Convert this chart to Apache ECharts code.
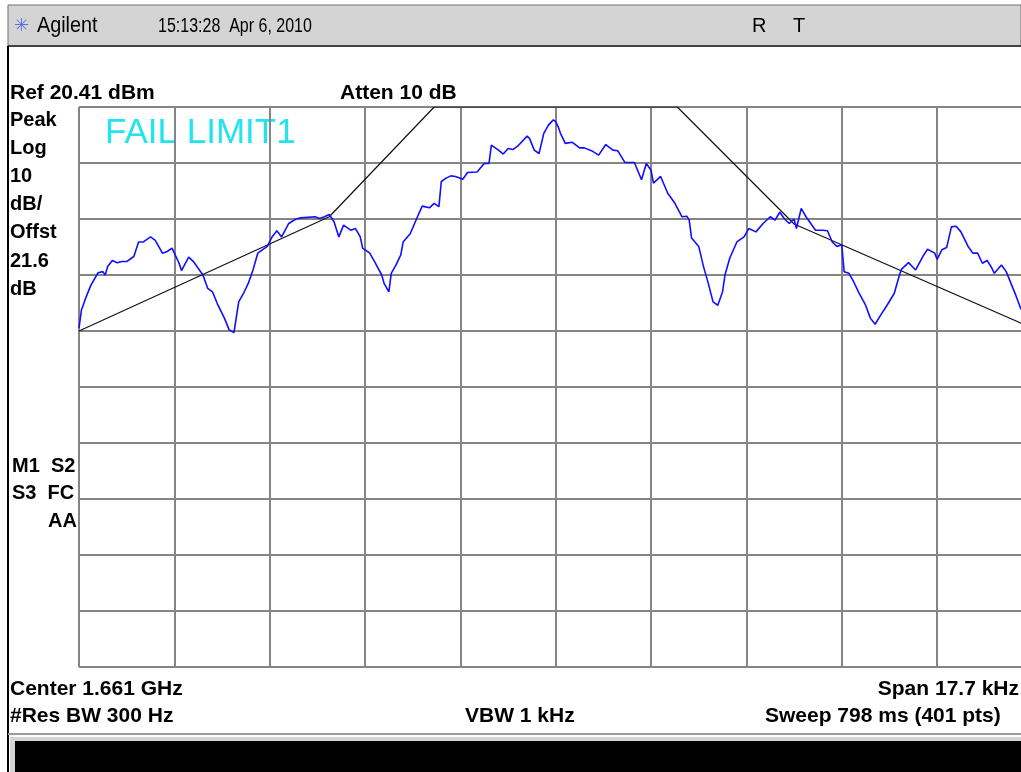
<!DOCTYPE html>
<html>
<head>
<meta charset="utf-8">
<title>Agilent spectrum</title>
<script src="https://cdn.jsdelivr.net/npm/echarts@6/dist/echarts.min.js"></script>
<style>
  html, body { margin: 0; padding: 0; background: #fff; }
  #main { width: 1021px; height: 772px; }
</style>
</head>
<body>
<div id="main"></div>
<script>
// 扫描点序号 (0..400, 401 pts) 和 相对参考电平的 dB 值
var tracePts = [0,1,3,5,8,10,11,12,14,16,18,20,23,25,27,30,32,35,37,39,40,42,43,46,48,50,52,54,56,58,61,63,65,67,69,71,73,75,79,81,83,85,88,91,93,99,101,103,105,107,109,111,112,114,116,118,119,122,124,127,128,130,131,133,135,136,139,142,144,147,149,151,152,154,156,158,161,163,167,170,172,173,176,178,180,182,184,188,189,191,193,195,197,199,200,201,202,204,207,210,212,215,218,221,224,226,229,233,236,238,240,241,244,247,250,253,255,256,257,260,262,264,266,268,270,271,273,276,279,281,284,287,290,292,294,296,298,300,301,303,305,307,309,312,314,316,318,320,321,323,325,327,330,332,334,336,339,342,344,345,348,351,354,356,359,360,362,364,366,368,370,373,375,377,379,381,383,384,387,389,391,393,395,400];
var traceDb = [-39.5,-36.3,-33.9,-31.8,-29.6,-29.4,-30.0,-28.5,-27.4,-27.8,-27.6,-27.6,-26.7,-24.1,-24.1,-23.2,-23.8,-26.1,-25.8,-25.2,-26.1,-27.9,-29.2,-26.8,-27.6,-28.8,-30.0,-32.4,-33.0,-35.1,-37.7,-39.8,-40.3,-34.8,-33.3,-31.5,-29.1,-26.1,-24.9,-23.2,-22.1,-23.2,-20.8,-20.0,-19.8,-19.6,-19.9,-19.6,-19.2,-20.5,-23.2,-21.1,-21.4,-22.0,-21.7,-23.2,-25.2,-26.1,-27.6,-30.0,-31.5,-33.0,-29.7,-28.2,-26.4,-24.1,-22.6,-19.6,-17.7,-18.0,-17.2,-17.8,-13.3,-12.7,-12.3,-12.4,-12.9,-11.7,-11.6,-10.1,-10.1,-6.8,-7.7,-8.4,-7.4,-7.6,-7.0,-5.2,-5.6,-7.7,-8.3,-4.7,-3.2,-2.3,-2.6,-3.5,-4.7,-6.5,-6.3,-7.3,-7.3,-7.8,-8.6,-6.7,-7.7,-7.8,-9.9,-9.9,-13.0,-10.1,-11.3,-13.6,-12.4,-15.4,-17.2,-19.6,-19.5,-20.2,-23.4,-24.9,-28.5,-31.5,-34.8,-35.4,-33.0,-30.0,-27.0,-24.1,-23.2,-21.7,-22.3,-20.8,-19.6,-20.2,-18.8,-20.0,-20.8,-20.0,-21.7,-18.1,-19.6,-20.8,-22.0,-22.0,-22.1,-24.1,-24.9,-24.6,-29.4,-29.7,-31.2,-33.0,-35.4,-37.7,-38.8,-37.4,-35.4,-33.3,-30.3,-29.0,-27.8,-29.1,-26.7,-25.4,-26.1,-27.2,-25.5,-25.1,-21.4,-21.3,-22.3,-24.9,-26.1,-26.1,-27.9,-27.4,-28.8,-29.7,-28.2,-29.4,-31.5,-33.6,-35.9,-39.0];
// LIMIT1 折线
var limitPts = [0,105,149,251,300,400];
var limitDb = [-40.0,-19.6,0,0,-20.9,-39.5];

var leftLabels = ['Peak','Log','10','dB/','Offst','21.6','dB'];

function pairs(xs, ys){
    var out = [];
    for (var i = 0; i < xs.length; i++) { out.push([xs[i], ys[i]]); }
    return out;
}

var myChart = echarts.init(document.getElementById('main'));

var sans = "'Liberation Sans',Arial,sans-serif";

function txt(x, y, s, font, extra){
    var st = { text: s, font: font + ' ' + sans, fill: '#000', verticalAlign: 'middle' };
    for (var k in extra) { st[k] = extra[k]; }
    return { type: 'text', x: x, y: y, style: st, silent: true };
}

var graphics = [
    // 顶部标题栏
    { type:'rect', shape:{x:8,y:5,width:1013,height:41}, style:{fill:'#d4d4d4', stroke:'#6e6e6e', lineWidth:1} },
    { type:'line', shape:{x1:8,y1:46,x2:1021,y2:46}, style:{stroke:'#444', lineWidth:2} },
    // 左侧黑线
    { type:'line', shape:{x1:8,y1:46,x2:8,y2:772}, style:{stroke:'#000', lineWidth:2} },
    txt(14, 26, '✳', '18px', {fill:'#5a6fe0'}),
    { type:'text', x:37, y:26, scaleX:0.9, silent:true,
      style:{text:'Agilent', font:'22px ' + sans, fill:'#000', verticalAlign:'middle'} },
    { type:'text', x:158, y:26, scaleX:0.8, silent:true,
      style:{text:'15:13:28  Apr 6, 2010', font:'20px ' + sans, fill:'#000', verticalAlign:'middle'} },
    txt(752, 26, 'R', '20px'),
    txt(793, 26, 'T', '20px'),
    // 参考电平
    txt(10, 93, 'Ref 20.41 dBm', 'bold 21px'),
    txt(340, 93, 'Atten 10 dB', 'bold 21px'),
    txt(105, 133, 'FAIL LIMIT1', '35px', {fill:'#22e4ee'}),
    // 底部信息
    txt(10, 689, 'Center 1.661 GHz', 'bold 21px'),
    txt(1019, 689, 'Span 17.7 kHz', 'bold 21px', {align:'right'}),
    txt(10, 716, '#Res BW 300 Hz', 'bold 21px'),
    txt(465, 716, 'VBW 1 kHz', 'bold 21px'),
    txt(765, 716, 'Sweep 798 ms (401 pts)', 'bold 21px'),
    { type:'line', shape:{x1:8,y1:734,x2:1021,y2:734}, style:{stroke:'#9a9a9a', lineWidth:2} },
    { type:'rect', shape:{x:10,y:737,width:1011,height:35}, style:{fill:'#d4d4d4'} },
    { type:'rect', shape:{x:15,y:741,width:1006,height:31}, style:{fill:'#000'} },
    // 标记
    txt(12, 466, 'M1  S2', 'bold 20px'),
    txt(12, 493, 'S3  FC', 'bold 20px'),
    txt(77, 521, 'AA', 'bold 20px', {align:'right'})
];
// 左侧刻度说明
for (var i = 0; i < leftLabels.length; i++) {
    graphics.push(txt(10, 120 + i * 28.2, leftLabels[i], 'bold 20px'));
}

option = {
    animation: false,
    backgroundColor: '#fff',
    grid: { left: 79, top: 107, right: 0, height: 560, show: false },
    xAxis: {
        // 屏幕右侧被截掉，只显示到约 395 点
        type: 'value', min: 0, max: 395.2, interval: 40,
        axisLine: { show: false }, axisTick: { show: false }, axisLabel: { show: false },
        splitLine: { show: true, showMaxLine: false, lineStyle: { color: '#858585', width: 2 } }
    },
    yAxis: {
        type: 'value', min: -100, max: 0, interval: 10,
        axisLine: { show: false }, axisTick: { show: false }, axisLabel: { show: false },
        splitLine: { show: true, lineStyle: { color: '#858585', width: 2 } }
    },
    series: [
        {
            name: 'LIMIT1', type: 'line', data: pairs(limitPts, limitDb),
            showSymbol: false, silent: true, z: 3,
            lineStyle: { color: '#111', width: 1.2 }
        },
        {
            name: 'Trace', type: 'line', data: pairs(tracePts, traceDb),
            showSymbol: false, silent: true, z: 4,
            lineStyle: { color: '#1010ff', width: 1.6 }
        }
    ],
    graphic: graphics
};
myChart.setOption(option);
</script>
</body>
</html>
